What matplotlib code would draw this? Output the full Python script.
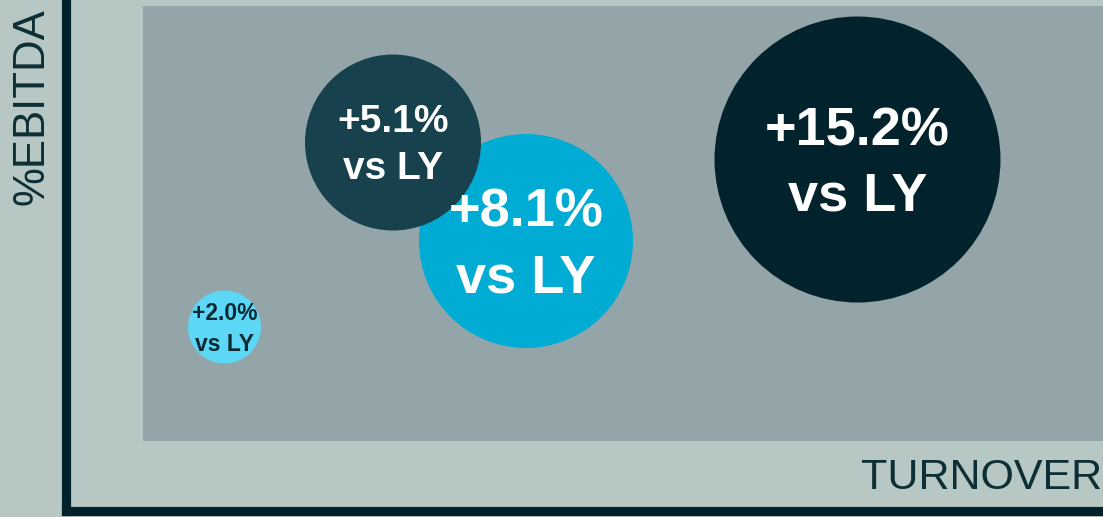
import matplotlib
matplotlib.use('Agg')
import matplotlib.pyplot as plt
from matplotlib.patches import Circle, Rectangle

# bubble data (turnover / %ebitda in chart units, size = bubble radius)
turnover = [159, 460.5, 327.5, 792]
ebitda = [184, 270, 368.5, 351.5]
radius = [36.5, 107, 88, 143]
labels = ['+2.0%\nvs LY', '+8.1%\nvs LY', '+5.1%\nvs LY', '+15.2%\nvs LY']
bubble_colors = ['#5dd7f6', '#00abd4', '#16414d', '#02232b']
text_colors = ['#0b2a33', 'white', 'white', 'white']
text_sizes = [16.5, 39, 28, 39]

BG = '#b7c7c3'
INNER = '#93a5a9'
DARK = '#02222b'

fig = plt.figure(figsize=(11.03, 5.17), dpi=100)
fig.patch.set_facecolor(BG)

# axes: left spine at x=65.5px, bottom spine at y=511px
ax = fig.add_axes([65.5 / 1103, 6 / 517, 1 - 65.5 / 1103, 509 / 517])
ax.set_facecolor(BG)
ax.set_xlim(0, 1103 - 65.5)
ax.set_ylim(0, 509)

for side in ['top', 'right']:
    ax.spines[side].set_visible(False)
for side in ['left', 'bottom']:
    ax.spines[side].set_linewidth(6.6)
    ax.spines[side].set_color(DARK)
ax.set_xticks([])
ax.set_yticks([])

# inner shaded panel
ax.add_patch(Rectangle((77.5, 70), 1200, 435, facecolor=INNER,
                       edgecolor='none', zorder=1))

for x, y, r, c in zip(turnover, ebitda, radius, bubble_colors):
    ax.add_patch(Circle((x, y), r, facecolor=c, edgecolor='none', zorder=2))

for x, y, lab, tc, fs in zip(turnover, ebitda, labels, text_colors, text_sizes):
    # nudge down a bit: bbox centring counts the descender of the last line
    ax.text(x, y - fs * 0.12, lab, ha='center', va='center', color=tc,
            fontsize=fs, fontweight='bold', family='Liberation Sans',
            linespacing=1.4, zorder=5)

fig.text(32 / 1103, 1 - 107 / 517, '%EBITDA', rotation=90, ha='center',
         va='center', fontsize=31.5, color='#0e2e36', family='Liberation Sans')
fig.text(1102 / 1103, 1 - 478 / 517, 'TURNOVER', ha='right', va='center',
         fontsize=31, color='#0e2e36', family='Liberation Sans')

fig.savefig('out.png', dpi=100, facecolor=BG)
